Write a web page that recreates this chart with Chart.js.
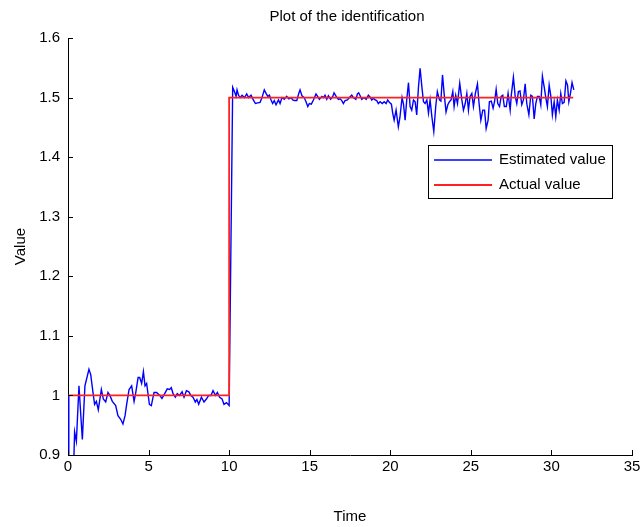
<!DOCTYPE html>
<html>
<head>
<meta charset="utf-8">
<script src="https://cdn.jsdelivr.net/npm/chart.js@4"></script>
<style>
    html, body { margin: 0; padding: 0; background: #fff; }
    #wrap { width: 644px; height: 527px; }
</style>
</head>
<body>
<div id="wrap"><canvas id="chart"></canvas></div>
<script>
// ── Data ───────────────────────────────────────────────────────────────────

const TITLE = 'Plot of the identification';
const X_LABEL = 'Time';
const Y_LABEL = 'Value';

const estimatedTime = [
    0, 0.05, 0.3, 0.41, 0.52, 0.68, 0.89, 1.05, 1.3, 1.41,
    1.55, 1.65, 1.76, 1.88, 2.07, 2.19, 2.34, 2.48, 2.6, 2.75,
    2.96, 3.1, 3.27, 3.41, 3.54, 3.64, 3.79, 3.95, 4.1, 4.2,
    4.35, 4.45, 4.57, 4.68, 4.78, 4.88, 5.05, 5.17, 5.34, 5.5,
    5.69, 5.83, 6.0, 6.16, 6.3, 6.41, 6.52, 6.66, 6.78, 6.92,
    7.08, 7.2, 7.35, 7.5, 7.62, 7.76, 7.9, 8.0, 8.11, 8.28,
    8.44, 8.59, 8.73, 8.87, 9.0, 9.15, 9.27, 9.41, 9.56, 9.68,
    9.83, 10.0,
    10.22, 10.33, 10.43, 10.49, 10.58, 10.68, 10.8, 10.95, 11.09, 11.21,
    11.36, 11.5, 11.63, 11.78, 11.92, 12.04, 12.18, 12.29, 12.4, 12.5,
    12.6, 12.7, 12.8, 12.91, 13.06, 13.16, 13.28, 13.42, 13.57, 13.7,
    13.84, 13.95, 14.05, 14.2, 14.32, 14.4, 14.52, 14.66, 14.77, 14.88,
    14.98, 15.1, 15.23, 15.39, 15.47, 15.6, 15.75, 15.85, 15.95, 16.06,
    16.16, 16.3, 16.43, 16.51, 16.64, 16.78, 16.88, 16.99, 17.09, 17.19,
    17.34, 17.46, 17.61, 17.71, 17.86, 17.96, 18.04, 18.13, 18.23, 18.37,
    18.5, 18.64, 18.74, 18.85, 18.95, 19.06, 19.16, 19.26, 19.37, 19.5,
    19.62, 19.74, 19.84, 19.94, 20.07,
    20.15, 20.24, 20.36, 20.5, 20.6, 20.73, 20.82, 20.92, 21.02, 21.13,
    21.23, 21.33, 21.44, 21.54, 21.64, 21.75, 21.85, 21.96, 22.06, 22.16,
    22.27, 22.37, 22.47, 22.58, 22.7, 22.82, 22.92, 23.05, 23.14, 23.24,
    23.34, 23.46, 23.57, 23.67, 23.77, 23.88, 23.96, 24.06, 24.17, 24.31,
    24.44, 24.54, 24.65, 24.75, 24.85, 24.95, 25.06, 25.16, 25.28, 25.41,
    25.51, 25.62, 25.74, 25.85, 25.95, 26.07, 26.15, 26.27, 26.38, 26.47,
    26.57, 26.67, 26.78, 26.88, 26.98, 27.08, 27.2, 27.31, 27.44, 27.51,
    27.64, 27.75, 27.85, 27.95, 28.05, 28.16, 28.26, 28.37, 28.47, 28.6,
    28.72, 28.82, 28.93, 29.03, 29.13, 29.24, 29.34, 29.44, 29.55, 29.65,
    29.75, 29.86, 29.96, 30.06, 30.17, 30.27, 30.37, 30.48, 30.58, 30.68,
    30.79, 30.9, 31.0, 31.08, 31.18, 31.28, 31.39,
];

const estimatedValue = [
    1.0, 0.8, 0.83, 0.939, 0.923, 1.016, 0.926, 1.016, 1.044, 1.035,
    1.005, 0.985, 0.99, 0.976, 1.01, 0.994, 0.989, 1.005, 1.0, 0.99,
    0.983, 0.966, 0.96, 0.952, 0.966, 0.985, 1.01, 1.016, 0.99, 1.004,
    1.03, 1.03, 1.02, 1.04, 1.016, 1.02, 0.985, 0.983, 1.005, 1.005,
    1.0, 0.995, 1.003, 1.011, 1.01, 1.013, 1.003, 0.997, 1.003, 1.0,
    1.006, 0.997, 1.008, 1.006, 1.0, 0.997, 0.989, 0.993, 0.985, 0.997,
    0.989, 0.994, 1.0, 1.0, 1.008, 1.0, 1.005, 0.997, 0.994, 0.985,
    0.988, 0.983,
    1.517, 1.51, 1.502, 1.513, 1.504, 1.5, 1.504, 1.5, 1.506, 1.5,
    1.504, 1.496, 1.49, 1.491, 1.492, 1.5, 1.513, 1.507, 1.502, 1.504,
    1.496, 1.49, 1.495, 1.488, 1.496, 1.49, 1.5, 1.497, 1.502, 1.498,
    1.5, 1.496, 1.495, 1.495, 1.507, 1.513, 1.503, 1.5, 1.493, 1.485,
    1.49, 1.489, 1.496, 1.506, 1.503, 1.497, 1.502, 1.5, 1.504, 1.497,
    1.503, 1.497, 1.502, 1.508, 1.502, 1.497, 1.498, 1.495, 1.49, 1.495,
    1.496, 1.5, 1.504, 1.5, 1.497, 1.506, 1.508, 1.503, 1.497, 1.5,
    1.497, 1.504, 1.501, 1.496, 1.499, 1.496, 1.495, 1.49, 1.493, 1.49,
    1.493, 1.49, 1.496, 1.492, 1.489,
    1.474, 1.462, 1.479, 1.451, 1.467, 1.5, 1.489, 1.462, 1.496, 1.525,
    1.485, 1.479, 1.496, 1.493, 1.471, 1.518, 1.549, 1.518, 1.493, 1.49,
    1.496, 1.474, 1.496, 1.468, 1.443, 1.485, 1.51, 1.496, 1.494, 1.538,
    1.507, 1.476, 1.488, 1.493, 1.496, 1.51, 1.485, 1.504, 1.49, 1.524,
    1.496, 1.479, 1.49, 1.507, 1.479, 1.502, 1.507, 1.485, 1.507, 1.523,
    1.49, 1.462, 1.479, 1.479, 1.448, 1.462, 1.493, 1.494, 1.482, 1.493,
    1.514, 1.49, 1.485, 1.502, 1.504, 1.485, 1.485, 1.507, 1.479, 1.504,
    1.534, 1.502, 1.49, 1.51, 1.511, 1.488, 1.496, 1.523, 1.49, 1.471,
    1.504, 1.502, 1.464, 1.49, 1.502, 1.502, 1.488, 1.536, 1.518, 1.5,
    1.485, 1.521, 1.503, 1.471, 1.493, 1.468, 1.496, 1.479, 1.507, 1.49,
    1.492, 1.528, 1.521, 1.493, 1.507, 1.525, 1.513,
];

const actualTime  = [0, 10, 10, 31.35];
const actualValue = [1, 1, 1.5, 1.5];

const X_MIN = 0,   X_MAX = 35,  X_STEP = 5;
const Y_MIN = 0.9, Y_MAX = 1.6, Y_STEP = 0.1;

// ── Helpers ────────────────────────────────────────────────────────────────

const FONT = 'Liberation Sans, Arial, Helvetica, sans-serif';
const toPoints = (xs, ys) => xs.map((x, i) => ({ x, y: ys[i] }));

// MATLAB-like inward tick marks, drawn from the scales' own ticks
const inwardTicks = {
    id: 'inwardTicks',
    afterDatasetsDraw(chart) {
        const { ctx, chartArea, scales } = chart;
        const len = 5;
        ctx.save();
        ctx.strokeStyle = '#000';
        ctx.lineWidth = 1;
        ctx.beginPath();
        scales.x.ticks.forEach(t => {
            const px = Math.round(scales.x.getPixelForValue(t.value)) + 0.5;
            ctx.moveTo(px, chartArea.bottom);
            ctx.lineTo(px, chartArea.bottom - len);
        });
        scales.y.ticks.forEach(t => {
            const py = Math.round(scales.y.getPixelForValue(t.value)) + 0.5;
            ctx.moveTo(chartArea.left, py);
            ctx.lineTo(chartArea.left + len, py);
        });
        ctx.stroke();
        ctx.restore();
    },
};

// Title centred over the axes, as MATLAB does it
const axesTitle = {
    id: 'axesTitle',
    afterDraw(chart, args, opts) {
        const { ctx, chartArea } = chart;
        ctx.save();
        ctx.font = `15px ${FONT}`;
        ctx.fillStyle = '#000';
        ctx.textAlign = 'center';
        ctx.textBaseline = 'middle';
        ctx.fillText(opts.text, (chartArea.left + chartArea.right) / 2 - 3, chartArea.top - 21);
        ctx.restore();
    },
};

// Boxed legend inside the axes (MATLAB style)
const boxLegend = {
    id: 'boxLegend',
    afterDraw(chart, args, opts) {
        const { ctx, chartArea } = chart;
        const w = 184, h = 53;
        const x = chartArea.right - opts.right - w;
        const y = chartArea.top + opts.top;
        ctx.save();
        ctx.fillStyle = '#fff';
        ctx.fillRect(x, y, w, h);
        ctx.strokeStyle = '#000';
        ctx.lineWidth = 1;
        ctx.strokeRect(x + 0.5, y + 0.5, w, h);
        ctx.font = `15px ${FONT}`;
        ctx.textBaseline = 'middle';
        chart.data.datasets.forEach((ds, i) => {
            const ly = Math.round(y + 15 + i * 25);
            ctx.strokeStyle = ds.borderColor;
            ctx.lineWidth = ds.borderWidth;
            ctx.beginPath();
            ctx.moveTo(x + 6, ly);
            ctx.lineTo(x + 64, ly);
            ctx.stroke();
            ctx.fillStyle = '#000';
            ctx.fillText(ds.label, x + 71, ly);
        });
        ctx.restore();
    },
};

// ── Chart ──────────────────────────────────────────────────────────────────

new Chart(document.getElementById('chart'), {
    type: 'line',
    data: {
        datasets: [
            {
                label: 'Estimated value',
                data: toPoints(estimatedTime, estimatedValue),
                borderColor: '#0000ff',
                borderWidth: 1.4,
                pointRadius: 0,
                tension: 0,
                order: 2,
            },
            {
                label: 'Actual value',
                data: toPoints(actualTime, actualValue),
                borderColor: '#ff2020',
                borderWidth: 1.8,
                pointRadius: 0,
                tension: 0,
                order: 1,
            },
        ],
    },
    options: {
        responsive: true,
        maintainAspectRatio: false,
        animation: false,
        layout: { padding: { top: 38, right: 12 } },
        plugins: {
            legend: { display: false },
            tooltip: { enabled: false },
            axesTitle: { text: TITLE },
            boxLegend: { right: 20, top: 107 },
        },
        scales: {
            x: {
                type: 'linear',
                min: X_MIN,
                max: X_MAX,
                afterFit: s => { s.height = 72; },
                ticks: {
                    stepSize: X_STEP,
                    color: '#000',
                    padding: 3,
                    maxRotation: 0,
                    font: { family: FONT, size: 15 },
                },
                grid: { display: false, drawTicks: false },
                border: { display: true, color: '#000', width: 1 },
                title: {
                    display: true,
                    text: X_LABEL,
                    color: '#000',
                    font: { family: FONT, size: 15 },
                    padding: { top: 0, bottom: 1 },
                },
            },
            y: {
                type: 'linear',
                min: Y_MIN,
                max: Y_MAX,
                afterFit: s => { s.width = 68; },
                ticks: {
                    stepSize: Y_STEP,
                    color: '#000',
                    padding: 8,
                    font: { family: FONT, size: 15 },
                    callback: v => String(+v.toFixed(1)),
                },
                grid: { display: false, drawTicks: false },
                border: { display: true, color: '#000', width: 1 },
                title: {
                    display: true,
                    text: Y_LABEL,
                    color: '#000',
                    font: { family: FONT, size: 15 },
                    padding: { top: 12, bottom: 0 },
                },
            },
        },
    },
    plugins: [inwardTicks, axesTitle, boxLegend],
});
</script>
</body>
</html>
